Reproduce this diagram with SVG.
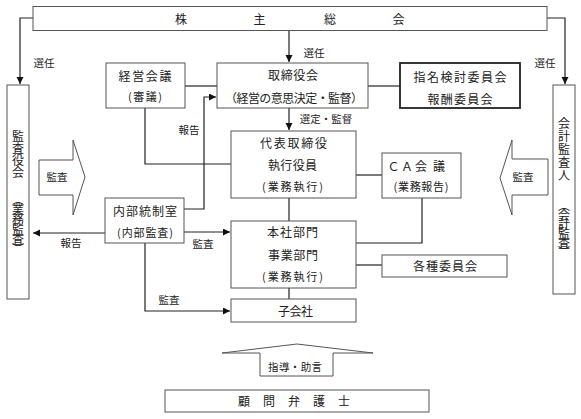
<svg xmlns="http://www.w3.org/2000/svg" width="581" height="419" viewBox="0 0 581 419">
<style>
text{font-family:"Noto Sans CJK JP","Noto Sans",sans-serif;fill:#222;font-size:12px}
.m{text-anchor:middle}
.s{font-size:11px}
.l{font-size:10.5px}
.box{fill:#fff;stroke:#555;stroke-width:1}
.bold{fill:#fff;stroke:#222;stroke-width:1.8}
.ln{fill:none;stroke:#222;stroke-width:1.2}
.ha{fill:#fff;stroke:#555;stroke-width:1}
</style>
<defs>
<marker id="ar" markerUnits="userSpaceOnUse" markerWidth="8" markerHeight="8" refX="7" refY="3.5" orient="auto">
<path d="M0,0 L7,3.5 L0,7 z" fill="#111"/>
</marker>
</defs>
<g id="connectors">
<path class="ln" d="M33,18 H20 V84" marker-end="url(#ar)"/>
<path class="ln" d="M547,18 H565 V84" marker-end="url(#ar)"/>
<path class="ln" d="M289,30.5 V62" marker-end="url(#ar)"/>
<path class="ln" d="M185,86 H217"/>
<path class="ln" d="M368,86 H400"/>
<path class="ln" d="M289,108 V130" marker-end="url(#ar)"/>
<path class="ln" d="M184,209 H204 V97 H216" marker-end="url(#ar)"/>
<path class="ln" d="M145,108 V164 H231"/>
<path class="ln" d="M356,175 H382"/>
<path class="ln" d="M422,198 V243 H356"/>
<path class="ln" d="M289,198 V221"/>
<path class="ln" d="M356,265 H382"/>
<path class="ln" d="M289,288 V299"/>
<path class="ln" d="M105,233 H33" marker-end="url(#ar)"/>
<path class="ln" d="M184,232 H230" marker-end="url(#ar)"/>
<path class="ln" d="M145,243 V311 H230" marker-end="url(#ar)"/>
<text x="44" y="67" class="m l">選任</text>
<text x="314" y="57" class="m l">選任</text>
<text x="545" y="67" class="m l">選任</text>
<text x="326" y="123" class="m l">選定・監督</text>
<text x="189" y="134" class="m l">報告</text>
<text x="71" y="247" class="m l">報告</text>
<text x="203" y="248" class="m l">監査</text>
<text x="169" y="304" class="m l">監査</text>
</g>
<g id="shareholders">
<rect class="box" x="33" y="6.5" width="514" height="24"/>
<text x="181" y="24" class="m">株</text>
<text x="259.5" y="24" class="m">主</text>
<text x="330" y="24" class="m">総</text>
<text x="398.5" y="24" class="m">会</text>
</g>
<g id="auditors">
<rect class="box" x="7" y="85" width="22" height="214"/>
<text class="m" x="18 18 18 18" y="140.5 152.5 164.5 176.5">監査役会</text>
<text class="m" font-size="10" x="18 18 18 18 18 18" y="203.8 213.8 223.8 233.8 243.8 253.8">︵業務監査︶</text>
</g>
<g id="accounting-auditor">
<rect class="box" x="553" y="85" width="22" height="209"/>
<text class="m" x="564 564 564 564 564" y="127.6 140.8 154 167.2 180.4">会計監査人</text>
<text class="m" font-size="9.5" x="564 564 564 564 564 564" y="210.4 219.7 229.1 238.4 247.7 257.1">︵会計監査︶</text>
</g>
<g id="management-meeting">
<rect class="box" x="106" y="63" width="79" height="45"/>
<text x="145" y="80.5" class="m" textLength="53">経営会議</text>
<text x="145" y="101" class="m s" textLength="34">(審議)</text>
</g>
<g id="board">
<rect class="box" x="217" y="63" width="151" height="45"/>
<text x="293" y="79.5" class="m" textLength="50">取締役会</text>
<text x="294" y="102.5" class="m" textLength="138">（経営の意思決定・監督）</text>
</g>
<g id="nomination">
<rect class="bold" x="400" y="63" width="120" height="45"/>
<text x="460" y="81.5" class="m" textLength="93">指名検討委員会</text>
<text x="460" y="103.5" class="m" textLength="65">報酬委員会</text>
</g>
<g id="representative">
<rect class="box" x="231" y="131" width="125" height="67"/>
<text x="293.5" y="147.5" class="m" textLength="67">代表取締役</text>
<text x="292.5" y="169.5" class="m" textLength="49">執行役員</text>
<text x="292.5" y="191" class="m s" textLength="61">(業務執行)</text>
</g>
<g id="ca-meeting">
<rect class="box" x="382" y="153" width="79" height="45"/>
<text class="m" x="393.5 407 421 439" y="170.5">ＣＡ会議</text>
<text x="421" y="191" class="m s" textLength="55">(業務報告)</text>
</g>
<g id="internal-control">
<rect class="box" x="105" y="198" width="79" height="45"/>
<text x="145" y="215.5" class="m" textLength="64">内部統制室</text>
<text x="145" y="237" class="m s" textLength="56">(内部監査)</text>
</g>
<g id="divisions">
<rect class="box" x="231" y="221" width="125" height="67"/>
<text x="292.5" y="236.5" class="m" textLength="51">本社部門</text>
<text x="293" y="259.5" class="m" textLength="50">事業部門</text>
<text x="292.5" y="281" class="m s" textLength="61">(業務執行)</text>
</g>
<g id="committees">
<rect class="box" x="382" y="255" width="125" height="22"/>
<text x="445" y="270.5" class="m" textLength="64">各種委員会</text>
</g>
<g id="subsidiaries">
<rect class="box" x="231" y="299" width="125" height="23"/>
<text x="295.5" y="315.5" class="m" textLength="35">子会社</text>
</g>
<g id="audit-arrow-left">
<polygon class="ha" points="39,160 73,160 73,140 85,177 73,215 73,195 39,195"/>
<text x="57" y="181" class="m l">監査</text>
</g>
<g id="audit-arrow-right">
<polygon class="ha" points="548,159 512,159 512,140 500,178 512,215 512,195 548,195"/>
<text x="523" y="181" class="m l">監査</text>
</g>
<g id="advice-arrow">
<polygon class="ha" points="260,376 260,353 222,353 297,344 373,353 333,353 333,376"/>
<text x="295" y="371" class="m l" textLength="54">指導・助言</text>
</g>
<g id="lawyer">
<rect class="box" x="165" y="390" width="264" height="22"/>
<text x="244" y="405.5" class="m">顧</text>
<text x="269" y="405.5" class="m">問</text>
<text x="294" y="405.5" class="m">弁</text>
<text x="319" y="405.5" class="m">護</text>
<text x="344" y="405.5" class="m">士</text>
</g>
</svg>
